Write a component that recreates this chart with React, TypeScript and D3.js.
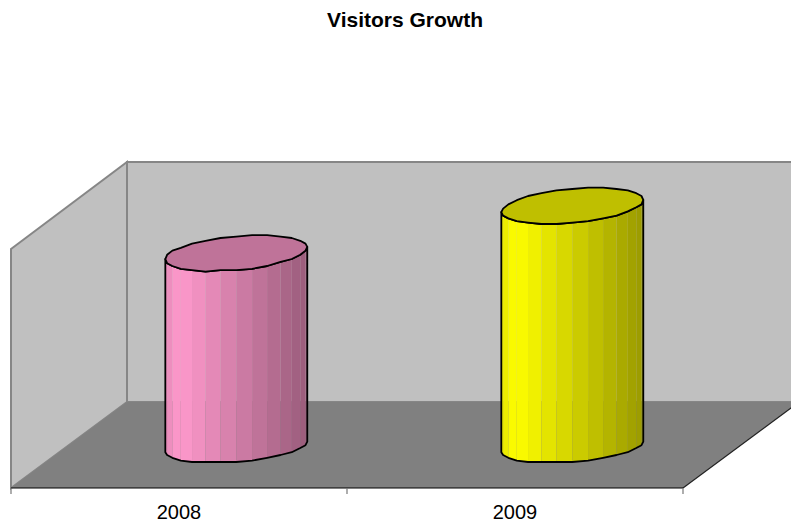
import * as d3 from "d3";

const title = "Visitors Growth";
const years = ["2008", "2009"];
const visitors = [80.5, 100];
const baseColors = ["#FF99CC", "#FFFF00"];

const width = 791;
const height = 521;

// chart box: front edge of the floor, then the shift to the back wall
const frontLeft = 11;
const frontRight = 683;
const floorFront = 488;
const depthX = 116;
const depthY = 86;
const wallH = 240;

const x = d3.scaleBand<string>().domain(years).range([frontLeft, frontRight]);
const y = d3.scaleLinear().domain([0, 100]).range([447, 206]);
const shade = d3.scaleLinear().domain([0, 0.1, 1]).range([0.9, 1, 0.6]);

const line = d3.line<[number, number]>();
const FACETS = 28;
const radiusX = 66.7;
const depthR = 18;
const backSlope = depthX / depthY;

// circle lying in the floor plane, snapped a bit like the old renderer did
function ring(cx: number, cy: number, flat: number): [number, number][] {
  const vy = depthR * flat;
  const vx = depthR * backSlope;
  return d3.range(FACETS).map((i) => {
    const t = (i / FACETS) * Math.PI * 2 + Math.atan2(vx, radiusX);
    const px = cx + radiusX * Math.cos(t) + vx * Math.sin(t);
    const py = cy - vy * Math.sin(t);
    // the two extremes stay where they are, the rest gets the wobble
    const keep = i === 0 || i === FACETS / 2;
    return [px, keep ? py : Math.round(py / 1.4) * 1.4];
  });
}

function darker(color: string, k: number) {
  const c = d3.rgb(color);
  return d3.rgb(c.r * k, c.g * k, c.b * k).formatRgb();
}

function Cylinder({ year, value, color }: { year: string; value: number; color: string }) {
  const cx = (x(year) ?? 0) + x.bandwidth() / 2 + depthX / 2 - 0.7;
  const top = ring(cx, y(value), 1);
  const bottom = ring(cx, y(0), 0.86);

  // indexes of the visible front half, left extreme to right extreme
  const half = FACETS / 2;
  const front = d3.range(half, FACETS + 1).map((i) => i % FACETS);
  const minX = top[half][0];
  const maxX = top[0][0];

  const outline = [
    ...front.map((i) => bottom[i]),
    top[0],
    ...[...front].reverse().map((i) => top[i]),
  ] as [number, number][];

  return (
    <g>
      {front.slice(0, -1).map((a, j) => {
        const b = front[j + 1];
        const f = ((top[a][0] + top[b][0]) / 2 - minX) / (maxX - minX);
        return (
          <path
            key={j}
            d={line([top[a], top[b], bottom[b], bottom[a]]) + "Z"}
            fill={darker(color, shade(f))}
          />
        );
      })}
      <path d={line(outline) + "Z"} fill="none" stroke="#000" strokeWidth={1.8} strokeLinejoin="round" />
      <path
        d={line(top) + "Z"}
        fill={darker(color, 0.75)}
        stroke="#000"
        strokeWidth={1.8}
        strokeLinejoin="round"
      />
    </g>
  );
}

export default function App() {
  const backLeft = frontLeft + depthX;
  const backRight = frontRight + depthX;
  const floorBack = floorFront - depthY;
  const wallTop = floorBack - wallH;
  const ticks = [frontLeft, ...years.map((d) => (x(d) ?? 0) + x.bandwidth())];

  return (
    <svg
      width={width}
      height={height}
      style={{ position: "fixed", left: 0, top: 0, fontFamily: "'Liberation Sans', Arial, sans-serif" }}
    >
      <rect width={width} height={height} fill="#fff" />
      <text x={405} y={27} textAnchor="middle" fontSize={21} fontWeight="bold" textLength={156}>
        {title}
      </text>

      {/* back wall */}
      <path
        d={line([[backLeft, wallTop], [backRight, wallTop], [backRight, floorBack], [backLeft, floorBack]]) + "Z"}
        fill="#C0C0C0"
        stroke="#868686"
        strokeWidth={2}
      />
      {/* left wall */}
      <path
        d={line([[frontLeft, wallTop + depthY + 1], [backLeft, wallTop], [backLeft, floorBack], [frontLeft, floorFront]]) + "Z"}
        fill="#C0C0C0"
        stroke="#868686"
        strokeWidth={2}
      />
      {/* floor */}
      <path
        d={line([[frontLeft, floorFront], [backLeft, floorBack], [backRight, floorBack], [frontRight, floorFront]]) + "Z"}
        fill="#808080"
      />
      <path d={line([[frontRight, floorFront], [backRight, floorBack]]) ?? ""} stroke="#222" strokeWidth={1.2} fill="none" />

      {years.map((d, i) => (
        <Cylinder key={d} year={d} value={visitors[i]} color={baseColors[i]} />
      ))}

      {/* category axis */}
      <line x1={frontLeft} x2={frontRight} y1={floorFront} y2={floorFront} stroke="#000" strokeWidth={1.2} />
      {ticks.map((t) => (
        <line key={t} x1={t} x2={t} y1={floorFront} y2={floorFront + 6} stroke="#777" strokeWidth={1.2} />
      ))}
      {years.map((d) => (
        <text key={d} x={(x(d) ?? 0) + x.bandwidth() / 2} y={518.5} textAnchor="middle" fontSize={20}>
          {d}
        </text>
      ))}
    </svg>
  );
}
